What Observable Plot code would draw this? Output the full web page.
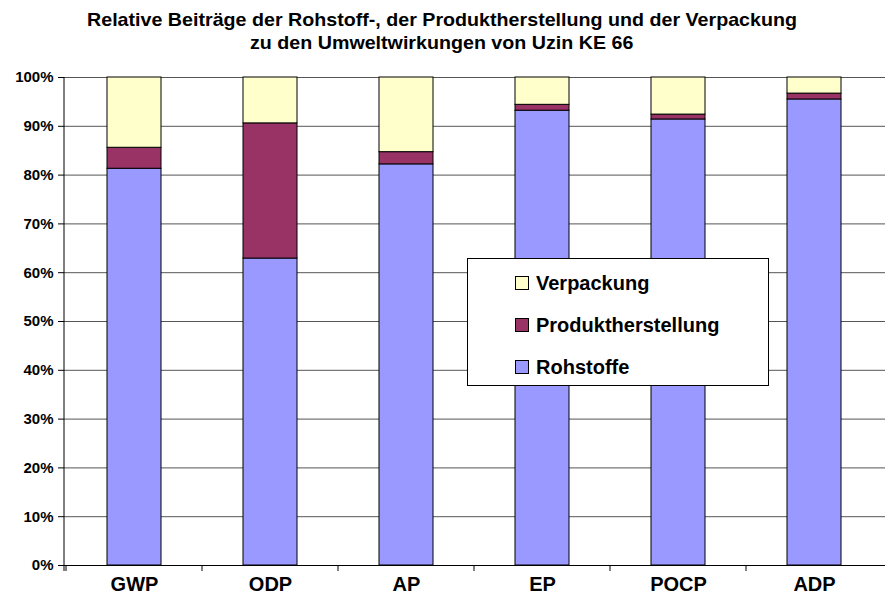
<!DOCTYPE html>
<html>
<head>
<meta charset="utf-8">
<script src="https://cdn.jsdelivr.net/npm/d3@7"></script>
<script src="https://cdn.jsdelivr.net/npm/@observablehq/plot@0.6"></script>
<style>
  body { margin: 0; background: #fff; }
  #wrap { position: relative; width: 885px; height: 608px; overflow: hidden; }
  #title { height: 60px; position: relative;
    font-family: "Liberation Sans", Arial, sans-serif;
    font-weight: bold; font-size: 19px; color: #000; }
  .tline { position: absolute; left: 0; white-space: nowrap; transform-origin: 0 50%; line-height: 22px; }
  #legend { position: absolute; left: 467px; top: 258px; width: 300px; height: 126px;
    border: 1px solid #000; background: #fff; box-sizing: content-box;
    font-family: "Liberation Sans", Arial, sans-serif; font-weight: bold; font-size: 20px; }
  .item { position: absolute; left: 47px; display: flex; align-items: center; line-height: 24px; }
  .sw { width: 12px; height: 12px; border: 1px solid #000; margin-right: 7px; }
</style>
</head>
<body>
<div id="wrap">
  <div id="title">
    <span class="tline" id="t1">Relative Beiträge der Rohstoff-, der Produktherstellung und der Verpackung</span>
    <span class="tline" id="t2">zu den Umweltwirkungen von Uzin KE 66</span>
  </div>
  <div id="chart"></div>
  <div id="legend"></div>
</div>
<script>
const categories = ["GWP", "ODP", "AP", "EP", "POCP", "ADP"];
const seriesNames = ["Rohstoffe", "Produktherstellung", "Verpackung"];
const seriesColors = ["#9999ff", "#993366", "#ffffcc"];
const rohstoffe = [81.3, 62.9, 82.2, 93.2, 91.4, 95.5];
const produktherstellung = [4.3, 27.7, 2.5, 1.2, 1.0, 1.2];
const verpackung = [14.4, 9.4, 15.3, 5.6, 7.6, 3.3];
const yTicks = [0, 10, 20, 30, 40, 50, 60, 70, 80, 90, 100];

const seriesValues = [rohstoffe, produktherstellung, verpackung];
const data = [];
seriesNames.forEach((s, si) => categories.forEach((c, ci) => data.push({cat: c, series: s, value: seriesValues[si][ci]})));

const plot = Plot.plot({
  width: 885,
  height: 548,
  marginLeft: 64,
  marginRight: 0,
  marginTop: 17,
  marginBottom: 43,
  style: {fontFamily: "'Liberation Sans', Arial, sans-serif", fontWeight: "bold", color: "#000", background: "#fff"},
  x: {domain: categories, paddingInner: 0.6, paddingOuter: 0.3, label: null},
  y: {domain: [0, 100], label: null},
  color: {domain: seriesNames, range: seriesColors},
  marks: [
    Plot.ruleY(yTicks, {stroke: "#555", strokeWidth: 1}),
    Plot.barY(data, Plot.stackY({x: "cat", y: "value", fill: "series", order: seriesNames, stroke: "#000", strokeWidth: 1})),
    Plot.axisY({ticks: yTicks, tickFormat: d => d + "%", tickSize: 6, tickPadding: 5, fontSize: 15, stroke: "#000"}),
    Plot.axisX({tickSize: 0, tickPadding: 11, fontSize: 20}),
    Plot.ruleY([0], {stroke: "#000"})
  ]
});
document.getElementById("chart").appendChild(plot);

// vertical y-axis line and category separator ticks, positioned via the plot's scales
const xs = plot.scale("x");
const ys = plot.scale("y");
const step = xs.step ?? xs.bandwidth / 0.4;
const svg = d3.select(plot);
const yTop = ys.apply(100), yBot = ys.apply(0);
svg.append("line").attr("x1", 64).attr("x2", 64).attr("y1", yTop).attr("y2", yBot + 6).attr("stroke", "#000");
categories.forEach(c => {
  const bx = xs.apply(c) + xs.bandwidth / 2 - step / 2;
  svg.append("line").attr("x1", bx).attr("x2", bx).attr("y1", yBot).attr("y2", yBot + 6).attr("stroke", "#000");
});

// title: condensed bold, line 1 fitted to the reference width
const t1 = document.getElementById("t1"), t2 = document.getElementById("t2");
const w1 = t1.getBoundingClientRect().width;
const k = 710 / w1;
const w2 = t2.getBoundingClientRect().width * k;
const cx = 87 + 355;
t1.style.left = "87px"; t1.style.top = "9px"; t1.style.transform = `scaleX(${k})`;
t2.style.left = (cx - w2 / 2) + "px"; t2.style.top = "32px"; t2.style.transform = `scaleX(${k})`;

// legend
const legend = document.getElementById("legend");
const legendOrder = [2, 1, 0];
const tops = [12, 54, 96];
legendOrder.forEach((si, i) => {
  const it = document.createElement("div");
  it.className = "item";
  it.style.top = tops[i] + "px";
  it.innerHTML = `<div class="sw" style="background:${seriesColors[si]}"></div><span>${seriesNames[si]}</span>`;
  legend.appendChild(it);
});
</script>
</body>
</html>
